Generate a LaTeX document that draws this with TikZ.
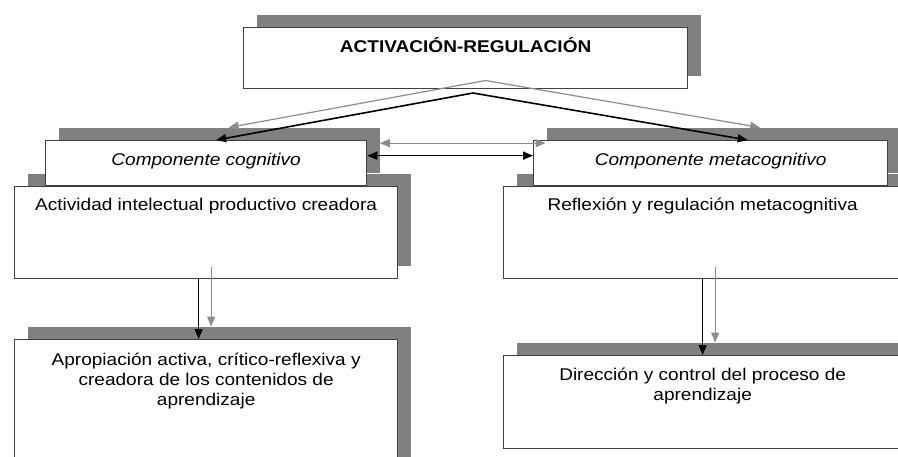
\documentclass[tikz,border=0pt]{standalone}
\usepackage{fontspec}
\setmainfont{Liberation Sans}[FakeStretch=1.12]
\usetikzlibrary{positioning,calc,shadows,arrows.meta}

\newcommand\boxfont{\fontsize{17}{20}\selectfont}

\begin{document}
\begin{tikzpicture}[
    x=1pt, y=-1pt,
    font=\boxfont,
    >={Triangle[length=10pt,width=8pt]},
    panel/.style={
        draw=black!75,
        line width=1.3pt,
        fill=white,
        anchor=north west,
        inner sep=0pt,
        drop shadow={shadow xshift=13pt, shadow yshift=13pt, fill=black!50, opacity=1}
    },
    txt/.style={align=center, inner sep=0pt},
    single/.style={txt, text height=12pt, text depth=3pt},
    arrow/.style={->, line width=1.6pt},
    ghost/.style={draw=black!45, line width=1.2pt, transform canvas={shift={(12.5pt,12.5pt)}}}
]
\useasboundingbox (0,0) rectangle (898,456);
\clip (0,0) rectangle (898,456);

% top box
\node[panel, minimum width=444pt, minimum height=61pt] (title) at (243,27) {};
\node[single, font=\boxfont\bfseries, below=13pt of title.north] (tTitle) {ACTIVACIÓN-REGULACIÓN};

% left column
\node[panel, minimum width=383pt, minimum height=92pt] (act) at (14,186) {};
\node[single, below=12pt of act.north] (tAct) {Actividad intelectual productivo creadora};
\node[panel, minimum width=321pt, minimum height=45pt] (cog) at (45,140) {};
\node[single, font=\boxfont\itshape, below=13pt of cog.north] (tCog) {Componente cognitivo};

% right column
\node[panel, minimum width=398pt, minimum height=92pt] (refl) at (503,186) {};
\node[single, below=12pt of refl.north] (tRefl) {Reflexión y regulación metacognitiva};
\node[panel, minimum width=354pt, minimum height=45pt] (meta) at (533,140) {};
\node[single, font=\boxfont\itshape, below=13pt of meta.north] (tMeta) {Componente metacognitivo};

% bottom boxes
\node[panel, minimum width=383pt, minimum height=140pt] (apro) at (14,339) {};
\node[txt, below=14pt of apro.north] (tApro) {Apropiación activa, crítico-reflexiva y\\creadora de los contenidos de\\aprendizaje};
\node[panel, minimum width=398pt, minimum height=93pt] (dirc) at (503,355) {};
\node[txt, below=13pt of dirc.north] (tDirc) {Dirección y control del proceso de\\aprendizaje};

\coordinate (fork) at (473,93);

% black connectors
\draw[arrow] (fork) -- ([xshift=10pt]cog.north);
\draw[arrow] (fork) -- ([xshift=37pt]meta.north);
\draw[arrow, <->] ([yshift=7.5pt]cog.east) -- ([yshift=7.5pt]meta.west);
\draw[arrow] ([xshift=-7.5pt]act.south) -- ([xshift=-7.5pt]apro.north);
\draw[arrow] (refl.south) -- (dirc.north);

% grey copies
\draw[arrow, ghost] (fork) -- ([xshift=10pt]cog.north);
\draw[arrow, ghost] (fork) -- ([xshift=37pt]meta.north);
\draw[arrow, ghost, <->] ([yshift=7.5pt]cog.east) -- ([yshift=7.5pt]meta.west);
\draw[arrow, ghost] ([xshift=-7.5pt]act.south) -- ([xshift=-7.5pt]apro.north);
\draw[arrow, ghost] (refl.south) -- (dirc.north);

\end{tikzpicture}
\end{document}
